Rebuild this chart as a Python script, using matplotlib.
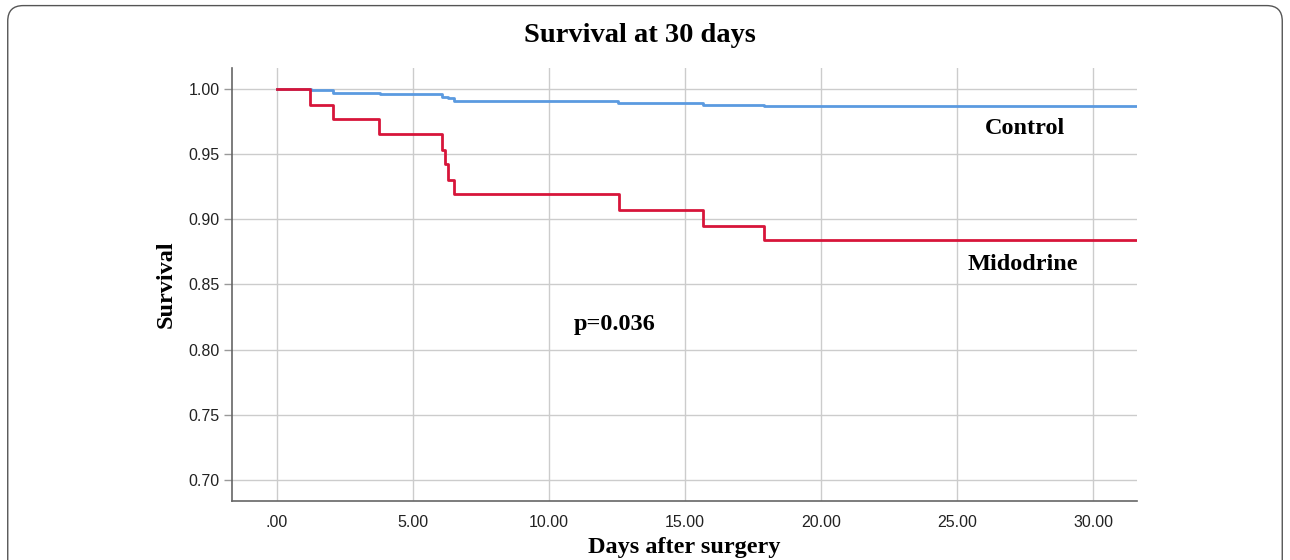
import matplotlib
matplotlib.use("Agg")
import matplotlib.pyplot as plt
from matplotlib.patches import FancyBboxPatch
from matplotlib.ticker import FuncFormatter

# Kaplan-Meier step data
days_midodrine = [0.0, 1.21, 2.05, 3.76, 6.05, 6.18, 6.30, 6.51, 12.58, 15.67, 17.9, 31.6]
surv_midodrine = [1.000, 0.988, 0.977, 0.965, 0.953, 0.942, 0.930, 0.919, 0.907, 0.895, 0.884, 0.884]

days_control = [0.0, 1.25, 2.06, 3.8, 6.05, 6.3, 6.5, 12.55, 15.67, 17.9, 31.6]
surv_control = [1.000, 0.9988, 0.997, 0.9957, 0.994, 0.993, 0.991, 0.9893, 0.988, 0.9867, 0.9867]

x_ticks = [0, 5, 10, 15, 20, 25, 30]
y_ticks = [0.70, 0.75, 0.80, 0.85, 0.90, 0.95, 1.00]

serif = ["Liberation Serif", "DejaVu Serif"]
sans = ["Liberation Sans Narrow", "Liberation Sans", "DejaVu Sans"]

fig = plt.figure(figsize=(12.9, 5.6), dpi=100)
ax = fig.add_axes([0.1798, 0.1054, 0.7016, 0.7732])

# rounded frame around the whole figure
frame = FancyBboxPatch((0.006, -0.05), 0.988, 1.04, boxstyle="round,pad=0,rounding_size=0.012",
                       transform=fig.transFigure, fill=False, edgecolor="#555555", linewidth=1.0,
                       mutation_aspect=1290 / 560)
fig.patches.append(frame)

ax.step(days_control, surv_control, where="post", color="#5b9ae0", linewidth=2.0)
ax.step(days_midodrine, surv_midodrine, where="post", color="#d7153a", linewidth=2.0)

ax.set_xlim(-1.65, 31.6)
ax.set_ylim(0.684, 1.016)
ax.set_xticks(x_ticks)
ax.set_yticks(y_ticks)
ax.xaxis.set_major_formatter(FuncFormatter(lambda v, p: ("%.2f" % v).lstrip("0") if v < 1 else "%.2f" % v))
ax.yaxis.set_major_formatter(FuncFormatter(lambda v, p: "%.2f" % v))
ax.grid(True, color="#cccccc", linewidth=1.0)
ax.set_axisbelow(True)
ax.tick_params(axis="x", length=0, pad=10, labelsize=11.5, colors="#222222")
ax.tick_params(axis="y", length=6, width=1, pad=3, labelsize=11.5, colors="#222222")
ax.tick_params(axis="y", color="#999999")
for lab in ax.get_xticklabels() + ax.get_yticklabels():
    lab.set_family(sans)

for s in ["top", "right"]:
    ax.spines[s].set_visible(False)
for s in ["left", "bottom"]:
    ax.spines[s].set_color("#666666")
    ax.spines[s].set_linewidth(1.2)

ax.text(27.5, 0.9695, "Control", family=serif, fontweight="bold", fontsize=17.5, ha="center", va="center")
ax.text(27.4, 0.8657, "Midodrine", family=serif, fontweight="bold", fontsize=17.5, ha="center", va="center")
ax.text(12.4, 0.8195, "p=0.036", family=serif, fontweight="bold", fontsize=17.5, ha="center", va="center")

ax.set_xlabel("Days after surgery", family=serif, fontweight="bold", fontsize=17.5, labelpad=5)
ax.set_ylabel("Survival", family=serif, fontweight="bold", fontsize=17.5, labelpad=8)
fig.text(0.496, 0.937, "Survival at 30 days", family=serif, fontweight="bold", fontsize=20.5,
         ha="center", va="center")

fig.savefig("out.png", dpi=100)
